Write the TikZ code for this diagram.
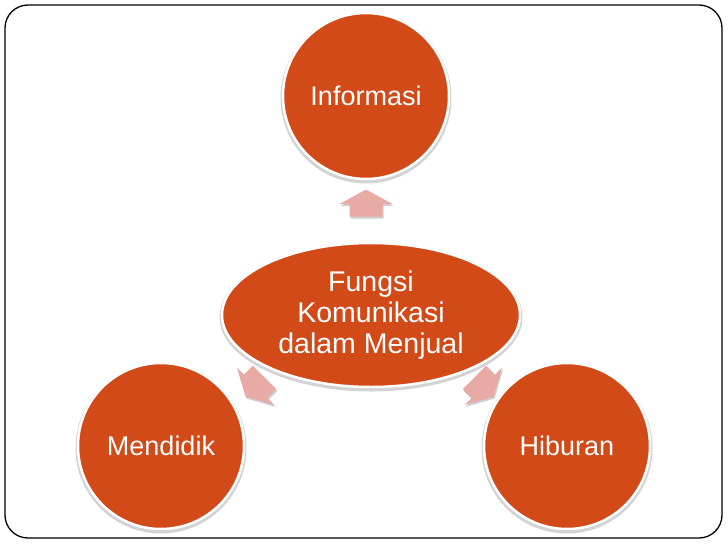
\documentclass[tikz,border=0pt]{standalone}
\usepackage{fontspec}
\setmainfont{Liberation Sans}
\usetikzlibrary{shapes.geometric,calc}
\definecolor{orng}{RGB}{209,74,24}
\definecolor{pinkarr}{RGB}{231,170,164}
\definecolor{shadowgray}{RGB}{175,175,175}
\begin{document}
\begin{tikzpicture}[x=1pt,y=-1pt,
  bubble/.style={circle,fill=orng,draw=white,line width=2.5pt,minimum size=166pt,inner sep=0pt,text=white,font=\fontsize{27}{31}\selectfont},
  bubbleshadow/.style={circle,fill=shadowgray,opacity=0.55,minimum size=171pt,inner sep=0pt},
  hub/.style={ellipse,fill=orng,draw=white,line width=2.5pt,minimum width=298pt,minimum height=144pt,inner sep=0pt,text=white,align=center,font=\fontsize{28.5}{31}\selectfont},
  hubshadow/.style={ellipse,fill=shadowgray,opacity=0.55,minimum width=303pt,minimum height=149pt,inner sep=0pt},
  arrowfill/.style={fill=pinkarr},
  arrowshade/.style={fill=shadowgray,opacity=0.6},
  blkarrow/.pic={
    \path[pic actions] (13.5,0) -- (-1,26.5) -- (-1,16.5) -- (-13.5,16.5)
      -- (-13.5,-16.5) -- (-1,-16.5) -- (-1,-26.5) -- cycle;
  },
  frame/.style={draw=black,line width=1.3pt,rounded corners=23pt}]
\useasboundingbox (0,0) rectangle (728,546);
\draw[frame] (5,5) rectangle (722,538);
% shadows
\node[bubbleshadow] at (366,98) {};
\node[bubbleshadow] at (161,448) {};
\node[bubbleshadow] at (567,448) {};
\node[hubshadow] at (371,317) {};
% block arrows (shadow then arrow)
\coordinate (aTop) at (366,203);
\coordinate (aLeft) at (255,387);
\coordinate (aRight) at (484,387);
\pic[arrowshade,rotate=90] at ($(aTop)+(1,2)$) {blkarrow};
\pic[arrowshade,rotate=225] at ($(aLeft)+(1,2)$) {blkarrow};
\pic[arrowshade,rotate=315] at ($(aRight)+(1,2)$) {blkarrow};
\pic[arrowfill,rotate=90] at (aTop) {blkarrow};
\pic[arrowfill,rotate=225] at (aLeft) {blkarrow};
\pic[arrowfill,rotate=315] at (aRight) {blkarrow};
% main shapes
\node[bubble] (info) at (366,96) {Informasi};
\node[bubble] (mend) at (161,446) {Mendidik};
\node[bubble] (hib) at (567,446) {Hiburan};
\node[hub] (hubn) at (371,315) {Fungsi\\Komunikasi\\dalam Menjual};
\end{tikzpicture}
\end{document}
